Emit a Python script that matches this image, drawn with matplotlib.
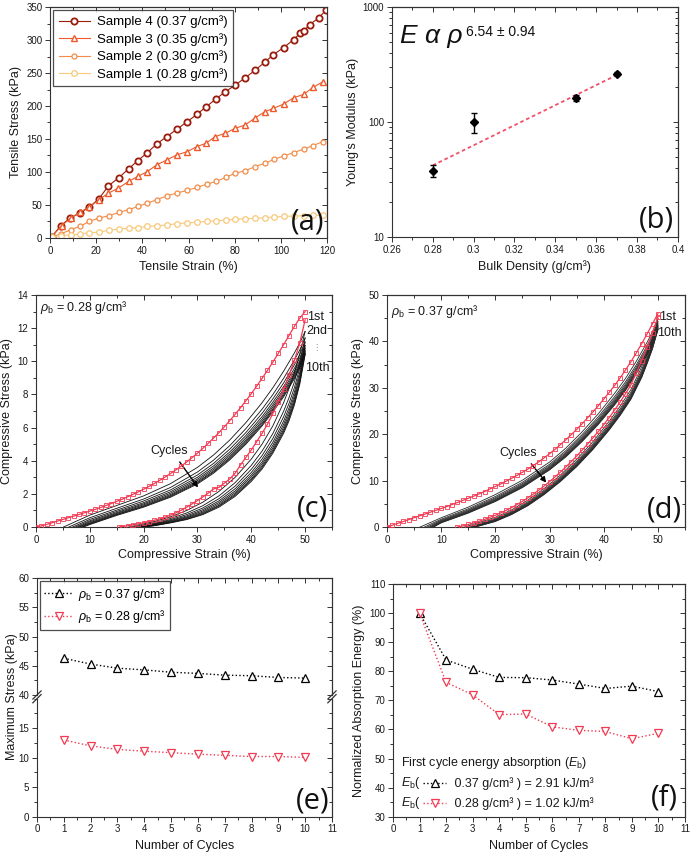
import matplotlib
matplotlib.use('Agg')
import matplotlib.pyplot as plt
from matplotlib.ticker import MultipleLocator, NullFormatter, FuncFormatter

plt.rcParams['font.family'] = ['Liberation Sans', 'DejaVu Sans']
plt.rcParams['mathtext.fontset'] = 'custom'
plt.rcParams['mathtext.rm'] = 'Liberation Sans'
plt.rcParams['mathtext.it'] = 'Liberation Sans:italic'
plt.rcParams['mathtext.bf'] = 'Liberation Sans:bold'

# ---------------- (a) tensile curves ----------------
a_s4_x = [0.7, 4.6, 8.7, 13.0, 17.0, 21.2, 25.3, 29.9, 34.0, 37.9, 42.2, 46.2, 50.6, 54.9, 59.2, 63.6,
          67.5, 71.8, 75.9, 80.2, 84.5, 88.9, 93.0, 96.8, 101.2, 105.5, 108.4, 109.8, 112.4, 116.3, 119.7]
a_s4_y = [1.5, 18.6, 30.2, 37.8, 46.8, 59.4, 79.0, 91.6, 104.7, 116.8, 129.4, 142.5, 153.6, 164.7, 175.7, 187.3,
          198.4, 210.5, 221.6, 231.6, 242.7, 254.3, 266.4, 278.0, 288.5, 300.6, 310.7, 313.2, 323.3, 333.3, 345.9]
a_s3_x = [0.7, 5.0, 9.0, 13.0, 17.0, 21.2, 25.3, 29.6, 34.0, 38.0, 42.2, 46.2, 50.6, 54.9, 59.5, 63.6,
          67.6, 71.5, 75.9, 80.2, 84.5, 88.6, 93.0, 96.8, 101.2, 105.5, 109.8, 113.9, 118.2]
a_s3_y = [1.5, 18.6, 30.2, 39.3, 46.8, 57.9, 68.0, 75.5, 85.6, 93.2, 100.7, 110.8, 118.3, 125.9, 130.9, 138.5,
          143.5, 153.6, 158.6, 166.2, 171.2, 181.3, 191.4, 196.4, 203.0, 212.5, 217.5, 228.1, 236.7]
a_s2_x = [0.7, 4.6, 9.0, 13.0, 17.0, 21.2, 25.6, 29.9, 34.0, 38.2, 42.2, 46.2, 50.6, 54.9, 59.2, 63.6,
          67.9, 72.0, 76.3, 80.2, 84.5, 88.9, 93.2, 97.1, 101.4, 105.5, 109.8, 113.9, 118.2]
a_s2_y = [1.5, 6.0, 12.6, 17.6, 25.2, 30.2, 33.7, 38.8, 42.8, 47.8, 52.9, 57.9, 63.9, 68.0, 72.0, 76.5,
          81.6, 85.6, 92.1, 98.2, 101.7, 108.3, 113.3, 119.3, 124.4, 129.4, 134.4, 140.0, 146.0]
a_s1_x = a_s2_x
a_s1_y = [1.5, 3.5, 4.5, 6.0, 7.6, 9.0, 11.6, 13.6, 14.6, 15.6, 17.6, 18.6, 19.6, 21.7, 22.7, 23.7,
          25.2, 26.2, 27.2, 28.2, 29.2, 29.7, 30.7, 31.7, 32.7, 33.2, 33.7, 34.2, 34.2]

# ---------------- (b) modulus vs density ----------------
b_density = [0.28, 0.30, 0.35, 0.37]
b_modulus = [37.8, 100.0, 162.0, 263.0]
b_err = [4.7, 19.0, 11.0, 8.0]
b_fit_x = [0.28, 0.37]
b_fit_y = [42.0, 256.0]

# ---------------- (c) cyclic compression, 0.28 g/cm3 ----------------
c_red_load_x = list(range(0, 51))
c_red_load_y = [0, 0.07, 0.16, 0.26, 0.36, 0.46, 0.56, 0.66, 0.76, 0.86, 0.96, 1.07, 1.18, 1.3, 1.42, 1.55,
                1.68, 1.82, 1.97, 2.12, 2.28, 2.45, 2.63, 2.82, 3.02, 3.23, 3.45, 3.68, 3.93, 4.19, 4.46,
                4.75, 5.05, 5.37, 5.7, 6.05, 6.42, 6.8, 7.2, 7.62, 8.05, 8.5, 8.97, 9.45, 9.95, 10.47,
                11.0, 11.55, 12.1, 12.6, 13.0]
c_red_unl_x = [15.5] + list(range(16, 51))
c_red_unl_y = [0, 0.02, 0.08, 0.14, 0.2, 0.26, 0.33, 0.41, 0.5, 0.6, 0.72, 0.86, 1.02, 1.2, 1.4, 1.6,
               1.82, 2.05, 2.3, 2.4, 2.65, 2.9, 3.25, 3.75, 4.2, 4.65, 5.15, 5.65, 6.2, 6.85, 7.55,
               8.3, 9.15, 10.05, 11.1, 12.5]
c_blk_load_grid = [10, 15, 20, 25, 30, 33, 36, 39, 42, 44, 46, 48, 49, 50]
c_blk_load_start = [5.1, 6.1, 6.8, 7.3, 7.7, 8.0, 8.3, 8.6, 8.8]
c_blk_load = [
    [0.72, 1.3, 1.88, 2.62, 3.6, 4.35, 5.25, 6.3, 7.5, 8.4, 9.4, 10.5, 11.1, 11.8],
    [0.56, 1.13, 1.69, 2.39, 3.32, 4.04, 4.91, 5.94, 7.11, 7.99, 8.97, 10.07, 10.68, 11.41],
    [0.46, 1.02, 1.57, 2.24, 3.14, 3.84, 4.7, 5.7, 6.86, 7.73, 8.69, 9.79, 10.41, 11.16],
    [0.38, 0.94, 1.47, 2.13, 3.0, 3.69, 4.53, 5.52, 6.66, 7.53, 8.47, 9.57, 10.2, 10.96],
    [0.32, 0.87, 1.4, 2.04, 2.89, 3.57, 4.4, 5.38, 6.51, 7.37, 8.3, 9.4, 10.03, 10.81],
    [0.26, 0.82, 1.34, 1.96, 2.8, 3.47, 4.29, 5.26, 6.38, 7.24, 8.16, 9.26, 9.9, 10.68],
    [0.22, 0.77, 1.28, 1.9, 2.72, 3.38, 4.19, 5.16, 6.27, 7.12, 8.04, 9.14, 9.78, 10.57],
    [0.18, 0.74, 1.24, 1.85, 2.66, 3.32, 4.12, 5.08, 6.18, 7.04, 7.94, 9.04, 9.69, 10.48],
    [0.15, 0.7, 1.2, 1.8, 2.6, 3.25, 4.05, 5.0, 6.1, 6.95, 7.85, 8.95, 9.6, 10.4],
]
c_blk_unl_grid = [22, 25, 28, 31, 34, 37, 40, 42, 44, 46, 47, 48, 49, 50]
c_blk_unl_end = [17.2, 18.0, 18.5, 18.9, 19.2, 19.5, 19.7, 19.9, 20.1]
c_blk_unl = [
    [0.33, 0.62, 1.0, 1.5, 2.15, 3.0, 4.1, 5.0, 6.1, 7.5, 8.35, 9.3, 10.45, 11.8],
    [0.26, 0.52, 0.85, 1.29, 1.88, 2.68, 3.72, 4.58, 5.64, 6.98, 7.8, 8.75, 9.93, 11.41],
    [0.21, 0.45, 0.75, 1.15, 1.71, 2.47, 3.48, 4.31, 5.34, 6.65, 7.45, 8.4, 9.6, 11.16],
    [0.18, 0.4, 0.67, 1.05, 1.58, 2.31, 3.29, 4.1, 5.11, 6.39, 7.18, 8.13, 9.34, 10.96],
    [0.15, 0.36, 0.61, 0.97, 1.48, 2.18, 3.14, 3.93, 4.93, 6.19, 6.97, 7.92, 9.14, 10.81],
    [0.13, 0.32, 0.56, 0.9, 1.39, 2.08, 3.02, 3.8, 4.78, 6.02, 6.79, 7.74, 8.97, 10.68],
    [0.11, 0.29, 0.52, 0.84, 1.31, 1.99, 2.91, 3.68, 4.65, 5.87, 6.63, 7.58, 8.82, 10.57],
    [0.09, 0.27, 0.48, 0.79, 1.26, 1.92, 2.83, 3.59, 4.55, 5.76, 6.52, 7.47, 8.71, 10.48],
    [0.08, 0.25, 0.45, 0.75, 1.2, 1.85, 2.75, 3.5, 4.45, 5.65, 6.4, 7.35, 8.6, 10.4],
]

# ---------------- (d) cyclic compression, 0.37 g/cm3 ----------------
d_red_load_x = list(range(0, 51))
d_red_load_y = [0, 0.4, 0.8, 1.2, 1.6, 2.0, 2.4, 2.8, 3.2, 3.6, 4.0, 4.4, 4.85, 5.3, 5.75, 6.2, 6.65, 7.15,
                7.65, 8.2, 8.75, 9.3, 9.9, 10.5, 11.15, 11.8, 12.5, 13.25, 14.05, 14.9, 15.8, 16.75, 17.75,
                18.8, 19.9, 21.05, 22.25, 23.5, 24.8, 26.15, 27.55, 29.0, 30.5, 32.1, 33.8, 35.6, 37.5,
                39.5, 41.6, 43.8, 46.0]
d_red_unl_x = list(range(13, 51))
d_red_unl_y = [0, 0.25, 0.55, 0.9, 1.25, 1.65, 2.1, 2.55, 3.05, 3.6, 4.2, 4.85, 5.55, 6.3, 7.1, 7.95, 8.85,
               9.8, 10.8, 11.85, 12.95, 14.1, 15.3, 16.55, 17.85, 19.2, 20.6, 22.05, 23.6, 25.2, 26.9,
               28.7, 30.6, 33.2, 35.8, 38.8, 41.9, 45.3]
d_blk_load_grid = [10, 15, 20, 25, 30, 33, 36, 39, 42, 44, 46, 48, 49, 50]
d_blk_load_start = [6.1, 6.9, 7.4, 7.8, 8.0, 8.2, 8.4, 8.5, 8.6]
d_blk_load = [
    [2.0, 4.3, 7.0, 10.1, 14.0, 17.0, 20.5, 24.4, 28.8, 32.0, 35.7, 39.8, 42.1, 44.9],
    [1.69, 3.94, 6.58, 9.65, 13.52, 16.47, 19.91, 23.76, 28.1, 31.27, 34.94, 39.04, 41.37, 44.23],
    [1.49, 3.7, 6.31, 9.36, 13.22, 16.13, 19.53, 23.34, 27.65, 30.8, 34.46, 38.56, 40.9, 43.8],
    [1.34, 3.52, 6.1, 9.14, 12.98, 15.86, 19.24, 23.02, 27.3, 30.44, 34.08, 38.18, 40.54, 43.46],
    [1.22, 3.38, 5.93, 8.96, 12.79, 15.65, 19.01, 22.77, 27.02, 30.15, 33.78, 37.88, 40.25, 43.2],
    [1.12, 3.26, 5.8, 8.82, 12.64, 15.48, 18.82, 22.56, 26.8, 29.92, 33.54, 37.64, 40.02, 42.98],
    [1.03, 3.16, 5.68, 8.69, 12.5, 15.33, 18.65, 22.38, 26.6, 29.71, 33.32, 37.42, 39.81, 42.79],
    [0.97, 3.08, 5.59, 8.6, 12.4, 15.21, 18.53, 22.24, 26.45, 29.56, 33.16, 37.26, 39.66, 42.64],
    [0.9, 3.0, 5.5, 8.5, 12.3, 15.1, 18.4, 22.1, 26.3, 29.4, 33.0, 37.1, 39.5, 42.5],
]
d_blk_unl_grid = [20, 23, 26, 29, 32, 35, 38, 41, 43, 45, 47, 48, 49, 50]
d_blk_unl_end = [14.3, 15.0, 15.4, 15.7, 15.9, 16.0, 16.1, 16.2, 16.3]
d_blk_unl = [
    [2.1, 3.7, 5.8, 8.3, 11.2, 14.6, 18.4, 22.8, 26.0, 29.6, 34.5, 37.5, 40.8, 44.9],
    [1.85, 3.42, 5.46, 7.94, 10.81, 14.15, 17.92, 22.27, 25.44, 29.01, 33.86, 36.86, 40.13, 44.23],
    [1.69, 3.24, 5.25, 7.7, 10.56, 13.86, 17.62, 21.93, 25.08, 28.63, 33.44, 36.44, 39.7, 43.8],
    [1.56, 3.1, 5.08, 7.52, 10.36, 13.64, 17.38, 21.66, 24.8, 28.34, 33.12, 36.12, 39.36, 43.46],
    [1.46, 2.99, 4.95, 7.38, 10.21, 13.46, 17.19, 21.45, 24.58, 28.11, 32.87, 35.87, 39.1, 43.2],
    [1.38, 2.9, 4.84, 7.26, 10.08, 13.32, 17.04, 21.28, 24.4, 27.92, 32.66, 35.66, 38.88, 42.98],
    [1.31, 2.82, 4.74, 7.16, 9.97, 13.19, 16.9, 21.13, 24.24, 27.75, 32.48, 35.48, 38.69, 42.79],
    [1.25, 2.76, 4.67, 7.08, 9.88, 13.1, 16.8, 21.01, 24.12, 27.63, 32.34, 35.34, 38.54, 42.64],
    [1.2, 2.7, 4.6, 7.0, 9.8, 13.0, 16.7, 20.9, 24.0, 27.5, 32.2, 35.2, 38.4, 42.5],
]

# ---------------- (e), (f) per-cycle values ----------------
cycles = [1, 2, 3, 4, 5, 6, 7, 8, 9, 10]
e_max_037 = [46.3, 45.3, 44.6, 44.3, 43.9, 43.7, 43.4, 43.3, 43.0, 42.9]
e_max_028 = [13.0, 12.0, 11.4, 11.1, 10.85, 10.6, 10.4, 10.2, 10.2, 10.05]
f_energy_037 = [100, 83.9, 80.7, 77.9, 77.8, 77.0, 75.6, 74.1, 74.9, 73.0]
f_energy_028 = [100, 76.2, 71.9, 65.1, 65.3, 60.9, 59.7, 59.3, 56.8, 58.7]

RED = '#f23a52'
TXT = '#1a1a1a'
LAB = dict(fontsize=9, color=TXT)
LETTER = dict(fontsize=21, family=['Open Sans', 'DejaVu Sans'], color='#111111')


def frame(ax, xmaj, xmin, ymaj, ymin, top=True, right=True):
    ax.xaxis.set_major_locator(MultipleLocator(xmaj))
    ax.xaxis.set_minor_locator(MultipleLocator(xmin))
    if ymaj is not None:
        ax.yaxis.set_major_locator(MultipleLocator(ymaj))
        ax.yaxis.set_minor_locator(MultipleLocator(ymin))
    ax.tick_params(which='both', direction='out', labelsize=7, colors='#333333', labelcolor=TXT, width=0.7)
    ax.tick_params(which='major', length=3.5, pad=2)
    ax.tick_params(which='minor', length=2)
    for s in ax.spines.values():
        s.set_linewidth(0.8)
        s.set_color('#333333')
    if top:
        sx = ax.secondary_xaxis('top')
        sx.xaxis.set_major_locator(MultipleLocator(xmaj))
        sx.xaxis.set_minor_locator(MultipleLocator(xmin))
        sx.xaxis.set_major_formatter(NullFormatter())
        sx.tick_params(which='both', direction='in', colors='#333333', width=0.7)
        sx.tick_params(which='major', length=3.5)
        sx.tick_params(which='minor', length=2)
        sx.spines['top'].set_linewidth(0.8)
    if right:
        sy = ax.secondary_yaxis('right')
        if ymaj is not None:
            sy.yaxis.set_major_locator(MultipleLocator(ymaj))
            sy.yaxis.set_minor_locator(MultipleLocator(ymin))
        sy.yaxis.set_major_formatter(NullFormatter())
        sy.yaxis.set_minor_formatter(NullFormatter())
        sy.tick_params(which='both', direction='in', colors='#333333', width=0.7)
        sy.tick_params(which='major', length=3.5)
        sy.tick_params(which='minor', length=2)
        sy.spines['right'].set_linewidth(0.8)


fig = plt.figure(figsize=(6.9, 8.56), dpi=100)

# ---------------- panel (a) ----------------
ax = fig.add_axes([0.0725, 0.722, 0.4015, 0.2698])
ax.plot(a_s4_x, a_s4_y, color='#9b1c0c', lw=0.8, marker='o', ms=4.5, mfc='white', mew=1.3,
        label='Sample 4 (0.37 g/cm³)')
ax.plot(a_s3_x, a_s3_y, color='#ee5a2a', lw=0.8, marker='^', ms=5, mfc='white', mew=1.0,
        label='Sample 3 (0.35 g/cm³)')
ax.plot(a_s2_x, a_s2_y, color='#f28c48', lw=0.8, marker='o', ms=3.6, mfc='white', mew=0.9,
        label='Sample 2 (0.30 g/cm³)')
ax.plot(a_s1_x, a_s1_y, color='#f7c97a', lw=0.8, marker='o', ms=4, mfc='white', mew=0.9,
        label='Sample 1 (0.28 g/cm³)')
ax.set_xlim(0, 120)
ax.set_ylim(0, 350)
frame(ax, 20, 10, 50, 25)
ax.set_xlabel('Tensile Strain (%)', labelpad=4, **LAB)
ax.set_ylabel('Tensile Stress (kPa)', labelpad=3, **LAB)
leg = ax.legend(loc='upper left', fontsize=9.5, frameon=True, fancybox=False, edgecolor='#222222',
                handlelength=2.4, labelspacing=0.35, borderaxespad=0.25, borderpad=0.4, handletextpad=0.5)
leg.get_frame().set_linewidth(0.9)
ax.text(0.99, 0.005, '(a)', transform=ax.transAxes, ha='right', va='bottom', **LETTER)

# ---------------- panel (b) ----------------
ax = fig.add_axes([0.568, 0.7231, 0.4145, 0.2687])
ax.set_yscale('log')
ax.plot(b_fit_x, b_fit_y, color='#f2506a', lw=1.3, ls=(0, (2, 1.6)))
ax.errorbar(b_density, b_modulus, yerr=b_err, fmt='D', color='black', ms=4.5, capsize=2.5,
            elinewidth=1.0, capthick=1.0, zorder=3)
ax.set_xlim(0.26, 0.40)
ax.set_ylim(10, 1000)
ax.xaxis.set_major_locator(MultipleLocator(0.02))
ax.xaxis.set_minor_locator(MultipleLocator(0.01))
ax.xaxis.set_major_formatter(FuncFormatter(lambda v, p: '%g' % round(v, 2)))
ax.yaxis.set_major_formatter(FuncFormatter(lambda v, p: '%g' % v))
ax.yaxis.set_minor_formatter(NullFormatter())
frame(ax, 0.02, 0.01, None, None, right=False)
sy = ax.secondary_yaxis('right')
sy.yaxis.set_major_formatter(NullFormatter())
sy.yaxis.set_minor_formatter(NullFormatter())
sy.tick_params(which='both', direction='in', colors='#333333', width=0.7)
sy.tick_params(which='major', length=3.5)
sy.tick_params(which='minor', length=2)
ax.set_xlabel('Bulk Density (g/cm³)', labelpad=4, **LAB)
ax.set_ylabel("Young's Modulus (kPa)", labelpad=3, **LAB)
ax.text(0.028, 0.845, 'E α ρ', transform=ax.transAxes, fontsize=19, style='italic',
        ha='left', va='baseline', color='#111111')
ax.text(0.258, 0.874, '6.54 ± 0.94', transform=ax.transAxes, fontsize=10,
        ha='left', va='baseline', color='#111111')
ax.text(0.985, 0.01, '(b)', transform=ax.transAxes, ha='right', va='bottom', **LETTER)


def hysteresis(ax, red_lx, red_ly, red_ux, red_uy, lgrid, lstart, lvals, ugrid, uend, uvals, blk):
    for st, vals in zip(lstart, lvals):
        ax.plot([st] + lgrid, [0] + vals, color=blk, lw=0.6)
    for en, vals in zip(uend, uvals):
        ax.plot([en] + ugrid, [0] + vals, color=blk, lw=0.6)
    ax.plot(red_lx, red_ly, color=RED, lw=0.9, marker='s', ms=2.6, mfc='none', mew=0.6, zorder=4)
    ax.plot(red_ux, red_uy, color=RED, lw=0.9, marker='s', ms=2.6, mfc='none', mew=0.6, zorder=4)


# ---------------- panel (c) ----------------
ax = fig.add_axes([0.0522, 0.3843, 0.429, 0.2711])
hysteresis(ax, c_red_load_x, c_red_load_y, c_red_unl_x, c_red_unl_y,
           c_blk_load_grid, c_blk_load_start, c_blk_load,
           c_blk_unl_grid, c_blk_unl_end, c_blk_unl, '#111111')
ax.set_xlim(0, 55)
ax.set_ylim(0, 14)
frame(ax, 10, 5, 2, 1)
ax.set_xlabel('Compressive Strain (%)', labelpad=3, **LAB)
ax.set_ylabel('Compressive Stress (kPa)', labelpad=3, **LAB)
ax.text(0.012, 0.945, r'$\rho_\mathrm{b}$ = 0.28 g/cm³', transform=ax.transAxes,
        fontsize=9, va='center', ha='left', color=TXT)
ax.text(50.3, 12.65, '1st', fontsize=9, va='center', ha='left', color=TXT)
ax.text(50.3, 11.8, '2nd', fontsize=9, va='center', ha='left', color=TXT)
ax.text(51.3, 10.85, '⋮', fontsize=6, va='center', ha='left', color='#888888',
        family=['DejaVu Sans'])
ax.text(50.0, 9.6, '10th', fontsize=9, va='center', ha='left', color=TXT)
ax.text(24.8, 4.6, 'Cycles', fontsize=9, va='center', ha='center', color=TXT)
ax.annotate('', xy=(30.4, 2.25), xytext=(26.4, 4.06),
            arrowprops=dict(arrowstyle='-|>', color='black', lw=1.0, mutation_scale=8))
ax.text(0.986, 0.015, '(c)', transform=ax.transAxes, ha='right', va='bottom', **LETTER)

# ---------------- panel (d) ----------------
ax = fig.add_axes([0.5609, 0.3843, 0.4319, 0.2711])
hysteresis(ax, d_red_load_x, d_red_load_y, d_red_unl_x, d_red_unl_y,
           d_blk_load_grid, d_blk_load_start, d_blk_load,
           d_blk_unl_grid, d_blk_unl_end, d_blk_unl, '#2a2a2a')
ax.set_xlim(0, 55)
ax.set_ylim(0, 50)
frame(ax, 10, 5, 10, 5)
ax.set_xlabel('Compressive Strain (%)', labelpad=3, **LAB)
ax.set_ylabel('Compressive Stress (kPa)', labelpad=3, **LAB)
ax.text(0.013, 0.928, r'$\rho_\mathrm{b}$ = 0.37 g/cm³', transform=ax.transAxes,
        fontsize=9, va='center', ha='left', color=TXT)
ax.text(50.2, 45.3, '1st', fontsize=9, va='center', ha='left', color=TXT)
ax.text(49.8, 41.7, '10th', fontsize=9, va='center', ha='left', color=TXT)
ax.text(24.2, 15.9, 'Cycles', fontsize=9, va='center', ha='center', color=TXT)
ax.annotate('', xy=(29.7, 9.1), xytext=(26.3, 14.1),
            arrowprops=dict(arrowstyle='-|>', color='black', lw=1.0, mutation_scale=8))
ax.text(0.989, 0.01, '(d)', transform=ax.transAxes, ha='right', va='bottom', **LETTER)

# ---------------- panel (e): broken y axis ----------------
ax_t = fig.add_axes([0.0536, 0.1881, 0.4275, 0.1363])
ax_b = fig.add_axes([0.0536, 0.0459, 0.4275, 0.1379])
for a in (ax_t, ax_b):
    a.plot(cycles, e_max_037, color='black', ls=':', lw=1.0, marker='^', ms=5.5, mfc='white', mew=0.9,
           label=r'$\rho_\mathrm{b}$ = 0.37 g/cm³')
    a.plot(cycles, e_max_028, color=RED, ls=':', lw=1.0, marker='v', ms=5.5, mfc='white', mew=0.9,
           label=r'$\rho_\mathrm{b}$ = 0.28 g/cm³')
    a.set_xlim(0, 11)
ax_t.set_ylim(40, 60)
ax_b.set_ylim(0, 20)
frame(ax_t, 1, 0.5, 5, 2.5)
frame(ax_b, 1, 0.5, 5, 2.5, top=False)
ax_b.set_yticks([0, 5, 10, 15])
ax_t.spines['bottom'].set_visible(False)
ax_b.spines['top'].set_visible(False)
ax_t.tick_params(which='both', bottom=False, labelbottom=False)
for a, yy in ((ax_t, 0.0), (ax_b, 1.0)):
    for xx in (0.0, 1.0):
        a.plot([xx - 0.014, xx + 0.014], [yy - 0.035, yy + 0.035],
               transform=a.transAxes, color='#333333', lw=0.9, clip_on=False)
ax_b.set_xlabel('Number of Cycles', labelpad=4, **LAB)
fig.text(0.017, 0.186, 'Maximum Stress (kPa)', rotation=90, ha='center', va='center', **LAB)
leg = ax_t.legend(loc='upper left', fontsize=9, frameon=True, fancybox=False, edgecolor='#222222',
                  handlelength=2.3, labelspacing=0.45, borderaxespad=0.25, borderpad=0.35, handletextpad=0.4)
leg.get_frame().set_linewidth(0.9)
ax_b.text(0.99, 0.01, '(e)', transform=ax_b.transAxes, ha='right', va='bottom', **LETTER)

# ---------------- panel (f) ----------------
ax = fig.add_axes([0.5696, 0.0459, 0.4232, 0.2718])
ax.plot(cycles, f_energy_037, color='black', ls=':', lw=1.0, marker='^', ms=5.5, mfc='white', mew=0.9)
ax.plot(cycles, f_energy_028, color=RED, ls=':', lw=1.0, marker='v', ms=5.5, mfc='white', mew=0.9)
ax.set_xlim(0, 11)
ax.set_ylim(30, 110)
frame(ax, 1, 0.5, 10, 5)
ax.set_xlabel('Number of Cycles', labelpad=4, **LAB)
ax.set_ylabel('Normalized Absorption Energy (%)', labelpad=3, **LAB)
ax.text(0.029, 0.232, r'First cycle energy absorption ($E_\mathrm{b}$)', transform=ax.transAxes,
        fontsize=9, va='center', ha='left', color=TXT)
for yy, col, mk, dens, val in ((0.143, 'black', '^', '0.37', '2.91'), (0.057, RED, 'v', '0.28', '1.02')):
    ax.text(0.029, yy, r'$E_\mathrm{b}$(', transform=ax.transAxes, fontsize=9, va='center', ha='left',
            color=TXT)
    ax.plot([0.103, 0.183], [yy, yy], transform=ax.transAxes, color=col, ls=':', lw=1.0, clip_on=False)
    ax.plot([0.143], [yy], transform=ax.transAxes, color=col, marker=mk, ms=5.5, mfc='white', mew=0.9,
            clip_on=False)
    ax.text(0.2, yy, ' %s g/cm³ ) = %s kJ/m³' % (dens, val), transform=ax.transAxes, fontsize=9,
            va='center', ha='left', color=TXT)
ax.text(0.976, 0.02, '(f)', transform=ax.transAxes, ha='right', va='bottom', **LETTER)

fig.savefig('out.png', dpi=100)
